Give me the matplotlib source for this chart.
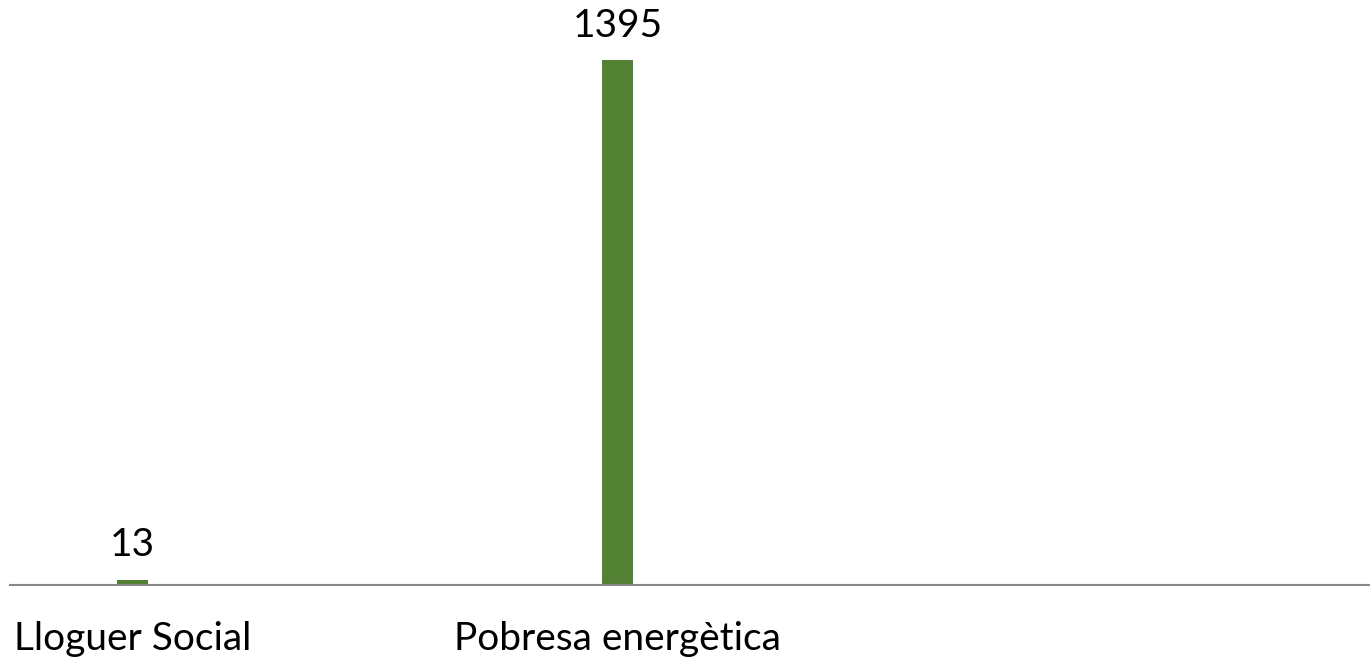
import numpy as np
import matplotlib
matplotlib.use("Agg")
import matplotlib.pyplot as plt

plt.rcParams['font.family'] = ['Lato', 'DejaVu Sans']

categories = ["Lloguer Social", "Pobresa energètica"]
values = [13, 1395]

fig = plt.figure(figsize=(13.7, 6.63), dpi=100)
ax = fig.add_axes([10 / 1370, 78 / 663, 1360 / 1370, 585 / 663])

x = np.arange(len(categories))
bars = ax.bar(x, values, width=0.064, color="#548235")

for rect, v in zip(bars, values):
    ax.annotate(str(v), (rect.get_x() + rect.get_width() / 2, rect.get_height()),
                xytext=(0, 12), textcoords="offset points",
                ha="center", va="bottom", fontsize=28, color="black")

ax.set_xlim(-0.2526, 2.5515)
ax.set_ylim(0, 1555)
ax.set_xticks(x)
ax.set_xticklabels(categories, fontsize=28)
ax.tick_params(axis="x", length=0, pad=26)
ax.set_yticks([])

for s in ["top", "right", "left"]:
    ax.spines[s].set_visible(False)
ax.spines["bottom"].set_color("#898989")
ax.spines["bottom"].set_linewidth(1.5)

fig.savefig("out.png", dpi=100)
